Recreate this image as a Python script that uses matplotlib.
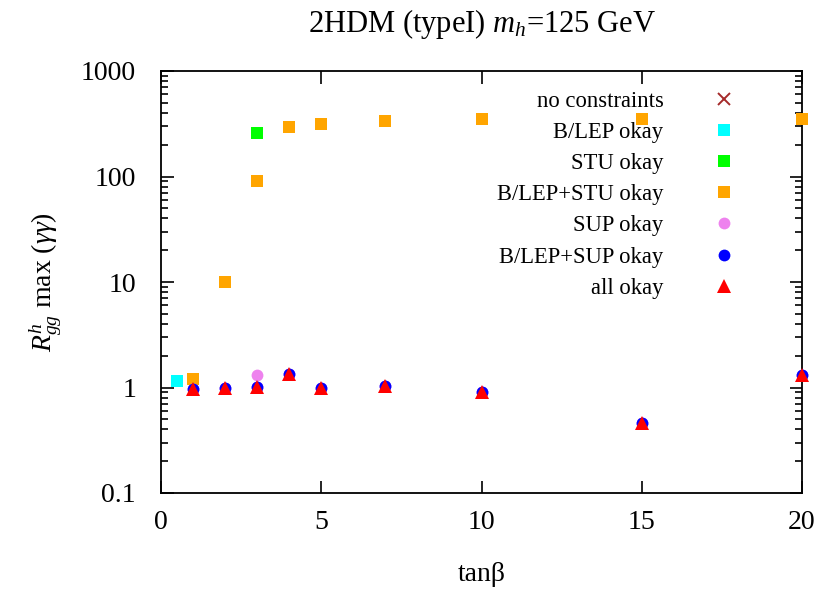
import matplotlib
matplotlib.use("Agg")
import matplotlib.pyplot as plt
from matplotlib.ticker import LogLocator, FixedLocator, NullFormatter, FixedFormatter

plt.rcParams['font.family'] = ['Liberation Serif', 'DejaVu Serif']
plt.rcParams['mathtext.fontset'] = 'custom'
plt.rcParams['mathtext.rm'] = 'Liberation Serif'
plt.rcParams['mathtext.it'] = 'Liberation Serif:italic'

# data
blep_x = [0.5]
blep_y = [1.15]
stu_x = [3]
stu_y = [257]
blep_stu_x = [1, 2, 3, 4, 5, 7, 10, 15, 20]
blep_stu_y = [1.2, 10.0, 91.5, 293, 313, 336, 351, 352, 352]
sup_x = [1, 2, 3, 3, 4, 5, 7, 10, 15, 20]
sup_y = [0.97, 0.98, 1.30, 1.01, 1.33, 0.98, 1.04, 0.90, 0.46, 1.30]
blep_sup_x = [1, 2, 3, 4, 5, 7, 10, 15, 20]
blep_sup_y = [0.97, 0.98, 1.01, 1.33, 0.98, 1.04, 0.90, 0.46, 1.30]
all_x = [1, 2, 3, 4, 5, 7, 10, 15, 20]
all_y = [0.97, 0.98, 1.01, 1.33, 0.98, 1.04, 0.90, 0.46, 1.30]

labels = ["no constraints", "B/LEP okay", "STU okay", "B/LEP+STU okay",
          "SUP okay", "B/LEP+SUP okay", "all okay"]
xticks = [0, 5, 10, 15, 20]
yticks = [0.1, 1, 10, 100, 1000]
ytick_labels = ["0.1", "1", "10", "100", "1000"]

fig = plt.figure(figsize=(8.21, 5.90), dpi=100)
ax = fig.add_axes([161/821, 1-493/590, (802-161)/821, (493-71)/590])

styles = [
    dict(marker='x', color='#a52a2a', ms=8.5, mew=1.4),
    dict(marker='s', color='cyan', ms=9),
    dict(marker='s', color='#00ff00', ms=9),
    dict(marker='s', color='orange', ms=9),
    dict(marker='o', color='violet', ms=8.5),
    dict(marker='o', color='blue', ms=8.5),
    dict(marker='^', color='red', ms=10),
]
series = [([], []), (blep_x, blep_y), (stu_x, stu_y), (blep_stu_x, blep_stu_y),
          (sup_x, sup_y), (blep_sup_x, blep_sup_y), (all_x, all_y)]

for (xs, ys), st in zip(series, styles):
    ax.plot(xs, ys, ls='none', markeredgewidth=st.get('mew', 0), marker=st['marker'],
            color=st['color'], markersize=st['ms'], clip_on=False, zorder=3)

# manual legend (gnuplot style)
for i, (lab, st) in enumerate(zip(labels, styles)):
    yy = 1 - (98.5 - 71 + i * 31.2) / 422
    ax.text(0.784, yy - 0.006, lab, transform=ax.transAxes, ha='right', va='center',
            fontsize=16.3)
    ax.plot([0.879], [yy], transform=ax.transAxes, ls='none', marker=st['marker'],
            color=st['color'], markersize=st['ms'], markeredgewidth=st.get('mew', 0),
            clip_on=False)

ax.set_yscale('log')
ax.set_xlim(0, 20)
ax.set_ylim(0.1, 1000)
ax.xaxis.set_major_locator(FixedLocator(xticks))
ax.yaxis.set_major_locator(FixedLocator(yticks))
ax.yaxis.set_major_formatter(FixedFormatter(ytick_labels))
ax.yaxis.set_minor_locator(LogLocator(base=10, subs=range(2, 10), numticks=20))
ax.yaxis.set_minor_formatter(NullFormatter())
ax.tick_params(which='both', direction='in', top=True, right=True, width=1.2,
               labelsize=20)
ax.tick_params(which='major', length=9)
ax.tick_params(which='minor', length=5)
ax.tick_params(axis='x', pad=12)
ax.tick_params(axis='y', pad=18)
for s in ax.spines.values():
    s.set_linewidth(1.3)

ax.set_xlabel('tanβ', fontsize=20, labelpad=20)
ax.set_ylabel(r'$R^{h}_{gg}$ max ($\gamma\gamma$)', fontsize=20, labelpad=12)
ax.set_title(r'2HDM (typeI) $m_h$=125 GeV', fontsize=22, pad=28)

fig.savefig('out.png', dpi=100)
